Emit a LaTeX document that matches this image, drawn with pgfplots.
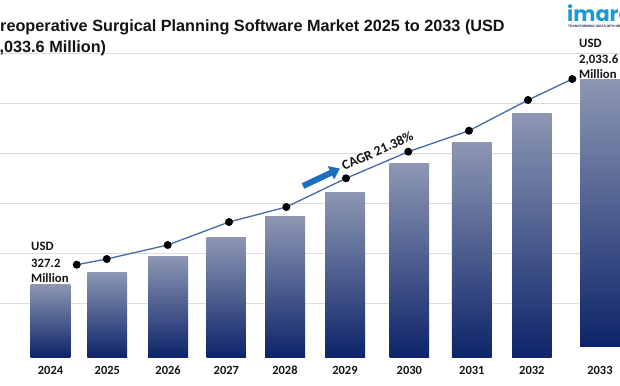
\documentclass[border=0pt]{standalone}
\usepackage{fontspec}
\setmainfont{Carlito}
\newfontfamily\titlefont{Liberation Sans}
\newfontfamily\logofont{Poppins}
\usepackage{pgfplots}
\pgfplotsset{compat=1.18}
\usetikzlibrary{arrows.meta}
\definecolor{barTop}{HTML}{8D97B3}
\definecolor{barBot}{HTML}{0E246A}
\definecolor{lineBlue}{HTML}{4668AE}
\definecolor{gridGray}{HTML}{DCDCDC}
\definecolor{arrowBlue}{HTML}{1C6EC0}
\definecolor{logoBlue}{HTML}{1A9BD7}
\definecolor{logoNavy}{HTML}{1F2A5A}
\definecolor{txt}{HTML}{141414}
\begin{document}
\begin{tikzpicture}[x=1bp,y=1bp]
\useasboundingbox (0,0) rectangle (620,385);
\clip (0,0) rectangle (620,385);
\fill[white] (0,0) rectangle (620,385);
\begin{axis}[
  at={(0bp,28bp)}, anchor=south west,
  scale only axis, width=620bp, height=357bp,
  xmin=-0.842, xmax=9.492, ymin=-280, ymax=2692.5,
  axis line style={draw=none},
  major tick length=0pt,
  ytick={169.6,586,1002.3,1418.6,1835,2251.2},
  yticklabels={},
  ymajorgrids, grid style={gridGray, line width=0.9bp},
  xtick={0,0.947,1.960,2.930,3.908,4.908,5.981,7.022,8.022,9.158},
  xticklabels={2024,2025,2026,2027,2028,2029,2030,2031,2032,2033},
  xticklabel style={anchor=base, yshift=-17bp, font=\bfseries\fontsize{12.5}{14}\selectfont, text=txt},
]
\pgfplotsset{barsty/.style={draw=none, top color=barTop, bottom color=barBot, forget plot}}
\addplot[barsty] coordinates {(-0.332,-280) (0.330,-280) (0.330,327.2) (-0.332,327.2)} -- cycle;
\addplot[barsty] coordinates {(0.615,-280) (1.278,-280) (1.278,425.2) (0.615,425.2)} -- cycle;
\addplot[barsty] coordinates {(1.628,-280) (2.292,-280) (2.292,560.9) (1.628,560.9)} -- cycle;
\addplot[barsty] coordinates {(2.603,-280) (3.258,-280) (3.258,713.3) (2.603,713.3)} -- cycle;
\addplot[barsty] coordinates {(3.575,-280) (4.242,-280) (4.242,888.1) (3.575,888.1)} -- cycle;
\addplot[barsty] coordinates {(4.575,-280) (5.242,-280) (5.242,1091.2) (4.575,1091.2)} -- cycle;
\addplot[barsty] coordinates {(5.650,-280) (6.312,-280) (6.312,1332.7) (5.650,1332.7)} -- cycle;
\addplot[barsty] coordinates {(6.690,-280) (7.353,-280) (7.353,1507.5) (6.690,1507.5)} -- cycle;
\addplot[barsty] coordinates {(7.692,-280) (8.353,-280) (8.353,1749.0) (7.692,1749.0)} -- cycle;
\addplot[barsty] coordinates {(8.825,-192.6) (9.492,-192.6) (9.492,2033.6) (8.825,2033.6)} -- cycle;
\addplot[lineBlue, line width=1.3bp, mark=*, mark size=3.3bp, mark options={draw=black, fill=black}]
  coordinates {(0.437,488.5) (0.937,535.9) (1.953,652.5) (2.975,844.0) (3.930,968.9)
               (4.925,1207.8) (5.963,1429.3) (6.975,1604.0) (7.958,1859.7) (8.697,2034.6)};
\end{axis}
% title
\node[anchor=base west, inner sep=0, text=txt, font=\titlefont\bfseries\fontsize{16.3}{19}\selectfont] at (-10.8,354) {Preoperative Surgical Planning Software Market 2025 to 2033 (USD};
\node[anchor=base west, inner sep=0, text=txt, font=\titlefont\bfseries\fontsize{16.3}{19}\selectfont] at (-9.6,332.7) {2,033.6 Million)};
% logo
\node[anchor=base west, inner sep=0, text=logoBlue, font=\logofont\bfseries\fontsize{21}{21}\selectfont] at (567,363.3) {imarc};
\node[anchor=base west, inner sep=0, text=logoNavy, font=\titlefont\bfseries\fontsize{3.3}{4}\selectfont] at (568,357.8) {TRANSFORMING IDEAS INTO IMPACT};
% value labels
\begin{scope}[every node/.style={anchor=base west, inner sep=0, text=txt, font=\bfseries\fontsize{12.8}{15}\selectfont}]
\node at (31,134.3) {USD};
\node at (31,118) {327.2};
\node at (31,102.5) {Million};
\node at (579,338) {USD};
\node at (579,322) {2,033.6};
\node at (579,306.5) {Million};
\end{scope}
% CAGR
\draw[arrowBlue, line width=6bp, -{Triangle[length=10bp,width=14bp]}] (303,199) -- (340,216.5);
\node[rotate=24, inner sep=0, text=txt, font=\bfseries\fontsize{13.8}{15}\selectfont] at (377.5,234) {CAGR 21.38\%};
\end{tikzpicture}
\end{document}
